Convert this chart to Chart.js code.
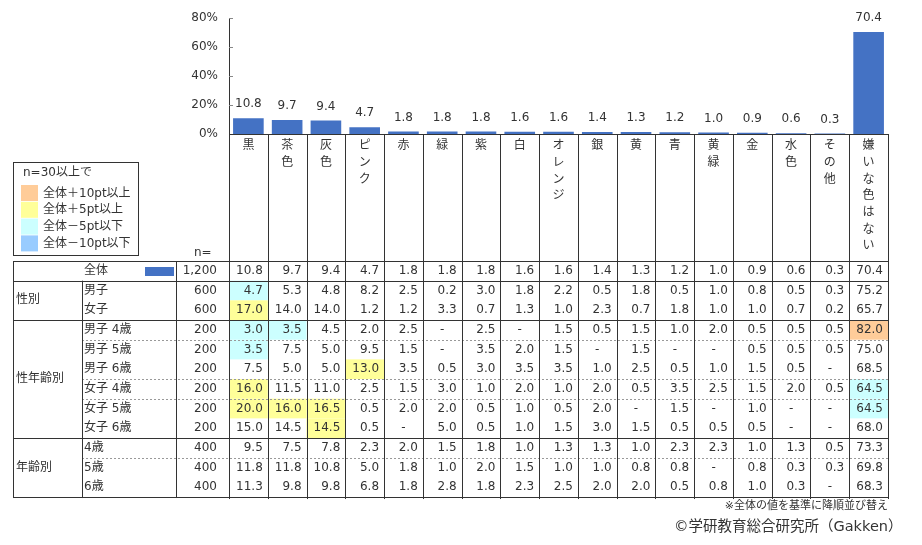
<!DOCTYPE html>
<html><head><meta charset="utf-8">
<script src="https://cdn.jsdelivr.net/npm/chart.js@4.4.0/dist/chart.umd.min.js"></script>
<style>html,body{margin:0;padding:0;background:#fff;}#wrap{width:922px;height:545px;position:relative;}</style>
</head><body><div id="wrap"><canvas id="c" width="922" height="545"></canvas></div>
<script>
const categories = ['黒','茶色','灰色','ピンク','赤','緑','紫','白','オレンジ','銀','黄','青','黄緑','金','水色','その他','嫌いな色はない'];
const totalN = 1200;
const totalValues = [10.8,9.7,9.4,4.7,1.8,1.8,1.8,1.6,1.6,1.4,1.3,1.2,1.0,0.9,0.6,0.3,70.4];
const yTicks = [0,20,40,60,80];
const rowLabels = ['男子','女子','男子 4歳','男子 5歳','男子 6歳','女子 4歳','女子 5歳','女子 6歳','4歳','5歳','6歳'];
const rowN = [600,600,200,200,200,200,200,200,400,400,400];
const boys = [4.7,5.3,4.8,8.2,2.5,0.2,3.0,1.8,2.2,0.5,1.8,0.5,1.0,0.8,0.5,0.3,75.2];
const girls = [17.0,14.0,14.0,1.2,1.2,3.3,0.7,1.3,1.0,2.3,0.7,1.8,1.0,1.0,0.7,0.2,65.7];
const boys4 = [3.0,3.5,4.5,2.0,2.5,null,2.5,null,1.5,0.5,1.5,1.0,2.0,0.5,0.5,0.5,82.0];
const boys5 = [3.5,7.5,5.0,9.5,1.5,null,3.5,2.0,1.5,null,1.5,null,null,0.5,0.5,0.5,75.0];
const boys6 = [7.5,5.0,5.0,13.0,3.5,0.5,3.0,3.5,3.5,1.0,2.5,0.5,1.0,1.5,0.5,null,68.5];
const girls4 = [16.0,11.5,11.0,2.5,1.5,3.0,1.0,2.0,1.0,2.0,0.5,3.5,2.5,1.5,2.0,0.5,64.5];
const girls5 = [20.0,16.0,16.5,0.5,2.0,2.0,0.5,1.0,0.5,2.0,null,1.5,null,1.0,null,null,64.5];
const girls6 = [15.0,14.5,14.5,0.5,null,5.0,0.5,1.0,1.5,3.0,1.5,0.5,0.5,0.5,null,null,68.0];
const age4 = [9.5,7.5,7.8,2.3,2.0,1.5,1.8,1.0,1.3,1.3,1.0,2.3,2.3,1.0,1.3,0.5,73.3];
const age5 = [11.8,11.8,10.8,5.0,1.8,1.0,2.0,1.5,1.0,1.0,0.8,0.8,null,0.8,0.3,0.3,69.8];
const age6 = [11.3,9.8,9.8,6.8,1.8,2.8,1.8,2.3,2.5,2.0,2.0,0.5,0.8,1.0,0.3,null,68.3];
const groupLabels = ['性別','性年齢別','年齢別'];
const legendTitle = 'n=30以上で';
const legendLabels = ['全体＋10pt以上','全体＋5pt以上','全体－5pt以下','全体－10pt以下'];

const allRows = [boys,girls,boys4,boys5,boys6,girls4,girls5,girls6,age4,age5,age6];
const groupSpans = [[0,2],[2,8],[8,11]];
const dashedAfter = [2,4,5,8];
const HL = ['#FFCC99','#FFFF99','#CCFFFF','#99CCFF'];
const F = '"DejaVu Sans","Noto Sans CJK JP",sans-serif';
const TXT = '#333333';
const LINE = '#333333';
const BAR = '#4472C4';

function hlColor(v, t, n){
  if (n < 30 || v === null) return null;
  const d = Math.round((v - t) * 10) / 10;
  if (d >= 10) return HL[0];
  if (d >= 5) return HL[1];
  if (d <= -10) return HL[3];
  if (d <= -5) return HL[2];
  return null;
}
const fmt = v => v === null ? '-' : v.toFixed(1);
const c5 = x => Math.round(x) + 0.5;

const tablePlugin = {
  id: 'tablePlugin',
  afterDraw(chart){
    const ctx = chart.ctx, xs = chart.scales.x, ys = chart.scales.y;
    const N = categories.length, cw = xs.width / N;
    const cx = i => xs.getPixelForValue(i);
    const edge = i => i < N ? cx(i) - cw/2 : cx(N-1) + cw/2;
    const L0 = 13, L1 = 82, L2 = 176, L3 = xs.left, R = xs.right;
    const y0 = ys.getPixelForValue(0);
    const T0 = 261, RH = 19.67;
    const rowY = k => T0 + k * RH;
    const B = rowY(12);
    ctx.save();

    // bar value labels
    ctx.font = '12px ' + F; ctx.fillStyle = TXT; ctx.textAlign = 'center'; ctx.textBaseline = 'middle';
    const meta = chart.getDatasetMeta(0);
    meta.data.forEach((bar, i) => { ctx.fillText(fmt(totalValues[i]), bar.x, bar.y - 14); });

    // inner tick marks
    ctx.strokeStyle = '#888'; ctx.lineWidth = 1;
    yTicks.forEach(t => { const y = c5(ys.getPixelForValue(t)); ctx.beginPath(); ctx.moveTo(L3, y); ctx.lineTo(L3 + 4, y); ctx.stroke(); });

    // highlights
    allRows.forEach((vals, r) => vals.forEach((v, i) => {
      const c = hlColor(v, totalValues[i], rowN[r]);
      if (c) { ctx.fillStyle = c; ctx.fillRect(edge(i), rowY(r+1), cw, RH); }
    }));

    // header vertical labels
    ctx.fillStyle = TXT; ctx.font = '12px ' + F; ctx.textAlign = 'center'; ctx.textBaseline = 'middle';
    categories.forEach((cat, i) => {
      Array.from(cat).forEach((ch, k) => ctx.fillText(ch, cx(i), 146 + k * 16.7));
    });
    ctx.textAlign = 'left';
    ctx.fillText('n=', 194, 253);

    // lines
    ctx.strokeStyle = LINE; ctx.lineWidth = 1;
    const hline = (x1, x2, y) => { ctx.beginPath(); ctx.moveTo(x1, c5(y)); ctx.lineTo(x2, c5(y)); ctx.stroke(); };
    const vline = (x, y1, y2) => { ctx.beginPath(); ctx.moveTo(c5(x), y1); ctx.lineTo(c5(x), y2); ctx.stroke(); };
    ctx.setLineDash([2, 2]); ctx.strokeStyle = '#999';
    dashedAfter.forEach(r => hline(L1, R, rowY(r + 2)));
    ctx.setLineDash([]); ctx.strokeStyle = LINE;
    hline(L3, R + 1, y0);
    for (let i = 1; i <= N; i++) vline(edge(i), y0, B + 2);
    vline(L3, y0, B + 2);
    hline(L0, R + 1, T0);
    hline(L0, R + 1, rowY(1));
    hline(L0, R + 1, rowY(3));
    hline(L0, R + 1, rowY(9));
    hline(L0, R + 1, B);
    vline(L0, T0, B + 1);
    vline(L1, rowY(1), B + 1);
    vline(L2, T0, B + 1);

    // table text
    ctx.fillStyle = TXT; ctx.font = '12px ' + F; ctx.textBaseline = 'middle';
    const rowText = (k, label, n, vals) => {
      const yc = rowY(k) + RH / 2;
      ctx.textAlign = 'left'; ctx.fillText(label, 84, yc);
      ctx.textAlign = 'right'; ctx.fillText(n.toLocaleString('en-US'), 217, yc);
      vals.forEach((v, i) => {
        if (v === null) { ctx.textAlign = 'center'; ctx.fillText('-', cx(i), yc); }
        else { ctx.textAlign = 'right'; ctx.fillText(fmt(v), edge(i) + cw - 5, yc); }
      });
    };
    rowText(0, '全体', totalN, totalValues);
    ctx.fillStyle = BAR; ctx.fillRect(145, 267, 29, 9);
    ctx.fillStyle = TXT;
    allRows.forEach((vals, r) => rowText(r + 1, rowLabels[r], rowN[r], vals));
    ctx.textAlign = 'left';
    groupSpans.forEach((g, j) => ctx.fillText(groupLabels[j], 16, (rowY(g[0] + 1) + rowY(g[1] + 1)) / 2));

    // legend box
    ctx.strokeStyle = LINE; ctx.strokeRect(13.5, 162.5, 125, 93);
    ctx.fillStyle = TXT; ctx.textAlign = 'left';
    ctx.fillText(legendTitle, 23, 173);
    legendLabels.forEach((lb, k) => {
      const y = 185 + k * 16.8;
      ctx.fillStyle = HL[k]; ctx.fillRect(21, y, 17, 16);
      ctx.fillStyle = TXT; ctx.fillText(lb, 43, y + 8.5);
    });

    // footnotes
    ctx.font = '11px ' + F; ctx.textAlign = 'right';
    ctx.fillText('※全体の値を基準に降順並び替え', 888, 506);
    ctx.font = '14.5px ' + F; ctx.textAlign = 'left';
    ctx.fillText('©学研教育総合研究所（Gakken）', 674, 527);
    ctx.restore();
  }
};

new Chart(document.getElementById('c'), {
  type: 'bar',
  data: {
    labels: categories,
    datasets: [{ data: totalValues, backgroundColor: BAR, barPercentage: 0.79, categoryPercentage: 1.0 }]
  },
  options: {
    responsive: false, animation: false, devicePixelRatio: 1,
    layout: { padding: { left: 169, right: 34, top: 17, bottom: 411 } },
    plugins: { legend: { display: false }, tooltip: { enabled: false } },
    scales: {
      x: { display: false },
      y: {
        min: 0, max: 80,
        afterFit: s => { s.width = 60; },
        afterBuildTicks: s => { s.ticks = yTicks.map(v => ({ value: v })); },
        grid: { display: false, drawTicks: false },
        border: { display: true, color: LINE, width: 1 },
        ticks: { padding: 11, color: TXT, font: { family: F, size: 12 }, callback: v => v + '%' }
      }
    }
  },
  plugins: [tablePlugin]
});
</script>
</body></html>
